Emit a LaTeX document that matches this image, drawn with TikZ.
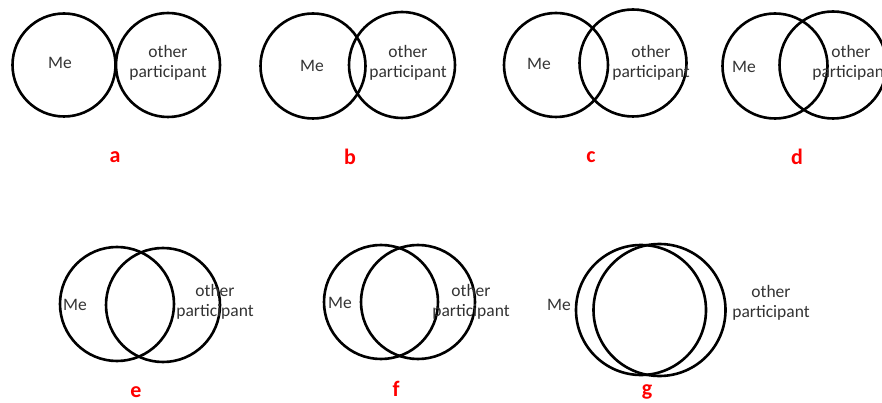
\documentclass[tikz,border=0pt]{standalone}
\usepackage{fontspec}
\setmainfont{Carlito}
\begin{document}
\begin{tikzpicture}[x=1pt,y=-1pt,
  ring/.style={draw=black, line width=2.6pt, circle, inner sep=0pt, minimum size=#1},
  txt/.style={text=black!80, font=\fontsize{17.5}{20}\selectfont, align=center, inner sep=0pt},
  lab/.style={text=red, font=\fontsize{22}{24}\selectfont\bfseries, inner sep=0pt}]
\useasboundingbox (0,0) rectangle (882,403);
% a
\node[ring=103] (a1) at (64,65) {};
\node[ring=104] (a2) at (168,65) {};
\node[txt] (ta1) at (60,63) {Me};
\node[txt] (ta2) at (168,63) {other\\participant};
\node[lab] (la) at (115,157) {a};
% b
\node[ring=105] (b1) at (313,66) {};
\node[ring=106] (b2) at (402,65) {};
\node[txt] (tb1) at (312,66) {Me};
\node[txt] (tb2) at (408,63) {other\\participant};
\node[lab] (lb) at (350,157) {b};
% c
\node[ring=104] (c1) at (556,65) {};
\node[ring=107] (c2) at (633,63) {};
\node[txt] (tc1) at (539,64) {Me};
\node[txt] (tc2) at (651,63) {other\\participant};
\node[lab] (lc) at (591,157) {c};
% d
\node[ring=105] (d1) at (775,66) {};
\node[ring=107] (d2) at (833,65) {};
\node[txt] (td1) at (744,67) {Me};
\node[txt] (td2) at (851,63) {other\\participant};
\node[lab] (ld) at (797,157) {d};
% e
\node[ring=114] (e1) at (117,304) {};
\node[ring=114] (e2) at (163,305) {};
\node[txt] (te1) at (75,305) {Me};
\node[txt] (te2) at (215,302) {other\\participant};
\node[lab] (le) at (136,392) {e};
% f
\node[ring=114] (f1) at (381,302) {};
\node[ring=114] (f2) at (418,302) {};
\node[txt] (tf1) at (340,303) {Me};
\node[txt] (tf2) at (471,302) {other\\participant};
\node[lab] (lf) at (396,389) {f};
% g
\node[ring=130] (g1) at (641,310) {};
\node[ring=132] (g2) at (659.5,310) {};
\node[txt] (tg1) at (559,305) {Me};
\node[txt] (tg2) at (771,303) {other\\participant};
\node[lab] (lg) at (647,392) {g};
\end{tikzpicture}
\end{document}
